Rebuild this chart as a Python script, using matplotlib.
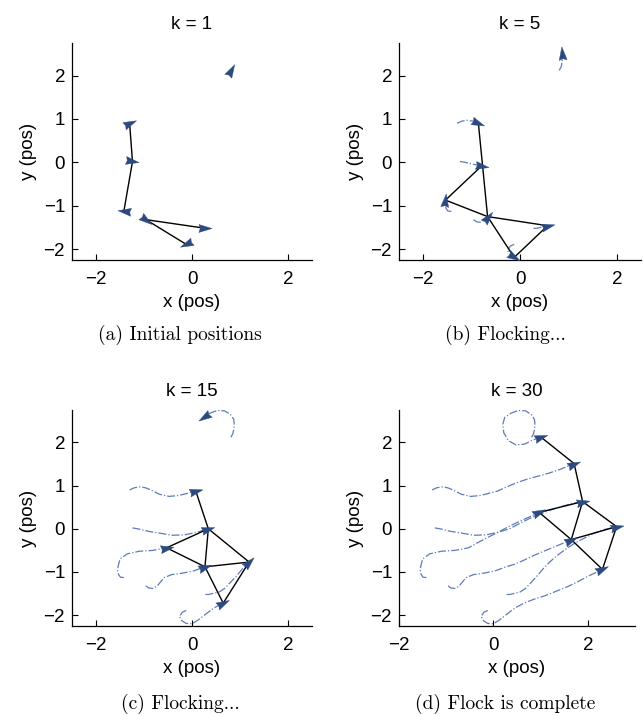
import matplotlib
matplotlib.use('Agg')
import matplotlib.pyplot as plt
import numpy as np
from matplotlib.markers import MarkerStyle
from matplotlib.path import Path
from matplotlib.transforms import Affine2D

plt.rcParams['font.family'] = ['Liberation Sans', 'DejaVu Sans']

k_steps = [1, 2, 3, 4, 5, 7, 9, 11, 13, 15, 17, 19, 21, 23, 25, 27, 30]

# agent paths (x, y) at each step in k_steps
agent_a = [(0.81, 2.12), (0.85, 2.20), (0.87, 2.30), (0.88, 2.42), (0.87, 2.53),
           (0.80, 2.65), (0.68, 2.73), (0.53, 2.74), (0.38, 2.68), (0.24, 2.58),
           (0.20, 2.42), (0.22, 2.22), (0.32, 2.04), (0.48, 1.94), (0.66, 1.96),
           (0.82, 2.05), (1.01, 2.12)]
agent_b = [(-1.30, 0.90), (-1.20, 0.95), (-1.09, 0.97), (-0.97, 0.95), (-0.86, 0.90),
           (-0.68, 0.80), (-0.48, 0.75), (-0.28, 0.77), (-0.10, 0.82), (0.08, 0.87),
           (0.28, 0.97), (0.50, 1.07), (0.72, 1.15), (0.95, 1.22), (1.18, 1.29),
           (1.40, 1.37), (1.71, 1.51)]
agent_c = [(-1.24, 0.02), (-1.13, 0.00), (-1.02, -0.03), (-0.90, -0.06), (-0.79, -0.08),
           (-0.62, -0.11), (-0.42, -0.15), (-0.15, -0.14), (0.10, -0.08), (0.34, 0.00),
           (0.55, 0.12), (0.77, 0.24), (0.99, 0.34), (1.20, 0.43), (1.42, 0.51),
           (1.62, 0.57), (1.89, 0.63)]
agent_d = [(-1.42, -1.13), (-1.49, -1.12), (-1.53, -1.06), (-1.55, -0.96), (-1.54, -0.87),
           (-1.50, -0.70), (-1.35, -0.58), (-1.10, -0.52), (-0.82, -0.50), (-0.53, -0.44),
           (-0.33, -0.32), (-0.12, -0.20), (0.10, -0.08), (0.32, 0.05), (0.53, 0.16),
           (0.73, 0.26), (0.97, 0.38)]
agent_e = [(-0.96, -1.32), (-0.90, -1.37), (-0.82, -1.38), (-0.73, -1.33), (-0.67, -1.25),
           (-0.58, -1.13), (-0.42, -1.06), (-0.22, -1.03), (0.02, -0.98), (0.27, -0.88),
           (0.45, -0.82), (0.64, -0.73), (0.83, -0.63), (1.02, -0.54), (1.22, -0.45),
           (1.40, -0.37), (1.65, -0.25)]
agent_f = [(0.28, -1.52), (0.35, -1.52), (0.42, -1.50), (0.50, -1.48), (0.57, -1.46),
           (0.68, -1.38), (0.80, -1.24), (0.92, -1.10), (1.05, -0.93), (1.19, -0.77),
           (1.35, -0.62), (1.52, -0.48), (1.70, -0.35), (1.90, -0.23), (2.10, -0.12),
           (2.30, -0.03), (2.61, 0.05)]
agent_g = [(-0.12, -1.89), (-0.20, -1.93), (-0.26, -2.03), (-0.21, -2.13), (-0.12, -2.19),
           (0.00, -2.20), (0.13, -2.11), (0.28, -1.98), (0.46, -1.83), (0.65, -1.72),
           (0.86, -1.63), (1.09, -1.55), (1.32, -1.45), (1.55, -1.35), (1.78, -1.23),
           (2.00, -1.10), (2.31, -0.94)]
agents = [agent_a, agent_b, agent_c, agent_d, agent_e, agent_f, agent_g]

# neighbour links drawn in each snapshot (agent indices a..g = 0..6)
edges_k1 = [(1, 2), (2, 3), (4, 5), (4, 6)]
edges_k5 = [(1, 4), (2, 3), (3, 4), (4, 5), (4, 6), (5, 6)]
edges_k15 = [(1, 2), (2, 3), (2, 4), (2, 5), (3, 4), (4, 5), (4, 6), (5, 6)]
edges_k30 = [(0, 1), (1, 2), (2, 3), (2, 4), (2, 5), (3, 4), (4, 5), (4, 6), (5, 6)]

panel_k = [1, 5, 15, 30]
panel_edges = [edges_k1, edges_k5, edges_k15, edges_k30]
panel_xlim = [(-2.5, 2.5), (-2.5, 2.5), (-2.5, 2.5), (-2.0, 3.0)]
panel_caption = ['(a) Initial positions', '(b) Flocking...',
                 '(c) Flocking...', '(d) Flock is complete']

arrow_col = '#2c4a80'
trail_col = '#5f7cb8'

W, H = 644, 716
# axes boxes in pixels: left, top, right, bottom
boxes = [(72, 43, 312, 260), (399, 43, 641, 260),
         (72, 410, 312, 626), (399, 410, 635, 626)]
caption_x = [180, 505, 180, 505]
caption_y = [335, 335, 704, 704]

head = Path([(1.0, 0.0), (-1.0, 0.6), (-0.8, 0.0), (-1.0, -0.6), (1.0, 0.0)],
            [Path.MOVETO, Path.LINETO, Path.LINETO, Path.LINETO, Path.CLOSEPOLY])

fig = plt.figure(figsize=(W / 100, H / 100), dpi=100)

for p in range(4):
    l, t, r, b = boxes[p]
    ax = fig.add_axes([l / W, 1 - b / H, (r - l) / W, (b - t) / H])
    ax.set_xlim(*panel_xlim[p])
    ax.set_ylim(-2.25, 2.75)
    ax.set_xticks([-2, 0, 2])
    ax.set_yticks([-2, -1, 0, 1, 2])
    for s in ['top', 'right']:
        ax.spines[s].set_visible(False)
    for s in ['left', 'bottom']:
        ax.spines[s].set_linewidth(0.9)
    ax.tick_params(direction='in', length=4, width=0.8, labelsize=13.5)
    ax.tick_params(axis='x', pad=8)
    ax.tick_params(axis='y', pad=5)
    ax.set_xlabel('x (pos)', fontsize=13.5, labelpad=4)
    ax.set_ylabel('y (pos)', fontsize=13.5, labelpad=5)
    ax.set_title('k = %d' % panel_k[p], fontsize=13.5, pad=10)

    idx = k_steps.index(panel_k[p])
    pos = np.array([ag[idx] for ag in agents])

    # trails
    if idx > 0:
        for ag in agents:
            tr = np.array(ag[:idx + 1])
            ax.plot(tr[:, 0], tr[:, 1], '-.', color=trail_col, lw=0.9, zorder=1)

    # neighbour links
    for i, j in panel_edges[p]:
        ax.plot([pos[i, 0], pos[j, 0]], [pos[i, 1], pos[j, 1]],
                color='black', lw=1.0, zorder=2)

    # heading arrows
    for ag in agents:
        if idx == 0:
            p0, p1 = ag[0], ag[1]
        else:
            p0, p1 = ag[idx - 1], ag[idx]
        d0 = ax.transData.transform(p0)
        d1 = ax.transData.transform(p1)
        ang = np.arctan2(d1[1] - d0[1], d1[0] - d0[0])
        m = MarkerStyle(head, transform=Affine2D().rotate(ang))
        ax.plot(ag[idx][0], ag[idx][1], marker=m, ms=9.5, color=arrow_col,
                mec=arrow_col, mew=0.3, zorder=3, clip_on=False)

    fig.text(caption_x[p] / W, 1 - caption_y[p] / H, panel_caption[p],
             family='cmr10', fontsize=14, ha='center', va='center')

fig.savefig('out.png', dpi=100)
